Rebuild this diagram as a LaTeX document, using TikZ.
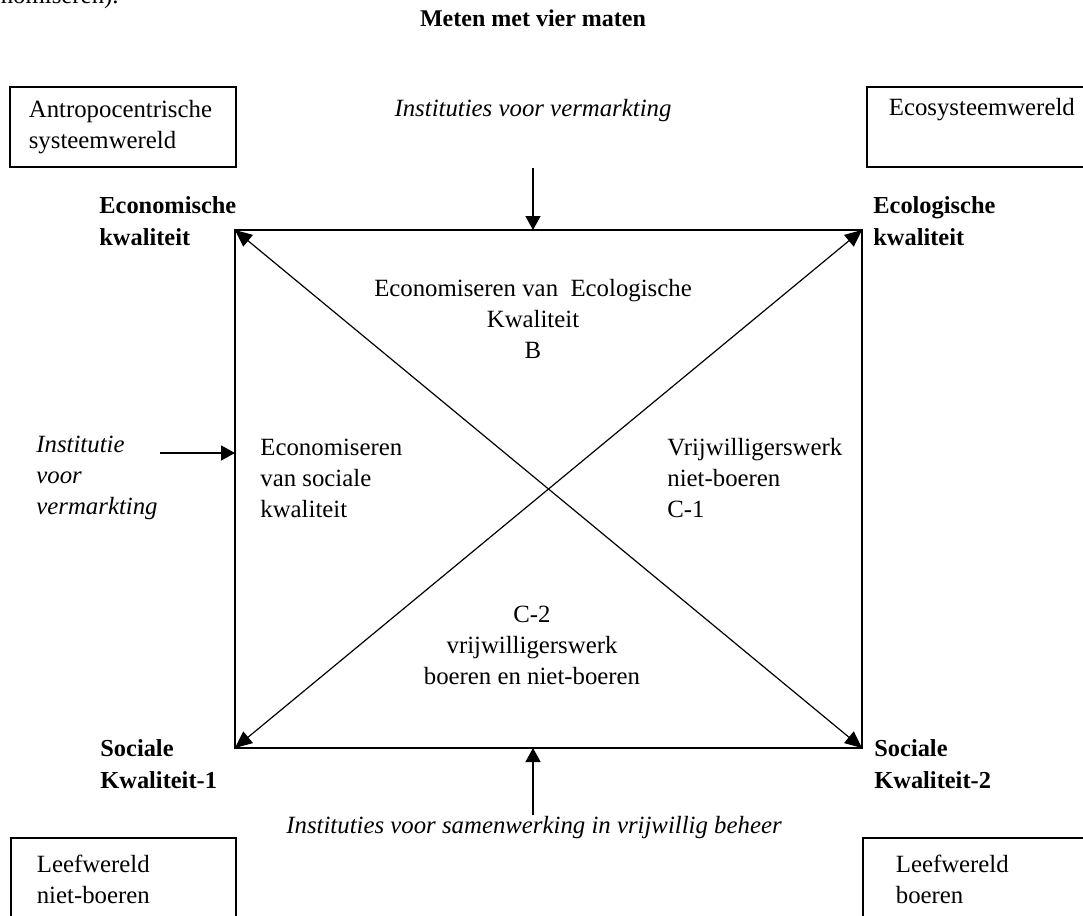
\documentclass[tikz,border=0pt]{standalone}
\usepackage{fontspec}
\setmainfont{Liberation Serif}
\usetikzlibrary{arrows.meta}
\begin{document}
\begin{tikzpicture}[x=0.5pt,y=-0.5pt,
  txt/.style={inner sep=0pt, font=\fontsize{12.4}{15.5}\selectfont, align=left},
  ctxt/.style={txt, align=center},
  itxt/.style={txt, font=\fontsize{12.4}{15.5}\selectfont\itshape},
  btxt/.style={txt, font=\fontsize{12.2}{16}\selectfont\bfseries},
  wbox/.style={draw, line width=0.85pt, font=\fontsize{12.4}{15.5}\selectfont, align=left, inner ysep=0pt, anchor=north west},
  frame/.style={line width=1pt},
  diag/.style={line width=0.6pt, {Triangle[length=8.5pt,width=7.5pt]}-{Triangle[length=8.5pt,width=7.5pt]}},
  inarrow/.style={line width=0.7pt, -{Triangle[length=7pt,width=7.5pt]}}
]
\clip (0,0) rectangle (1083,916);
\fill[white] (0,0) rectangle (1083,916);

% clipped fragment of the preceding text
\node[txt, anchor=base east] (frag) at (119,3) {economiseren).};

% title
\node[txt, font=\fontsize{12}{15}\selectfont\bfseries, anchor=base] (title) at (533,26) {Meten met vier maten};

% corner boxes
\node[wbox, minimum width=113pt, minimum height=40pt, text width=94pt, inner xsep=9.5pt] (antro) at (9,86) {Antropocentrische\\systeemwereld};
\node[wbox, minimum width=115pt, minimum height=40pt, text width=93pt, inner xsep=11pt] (eco) at (866,86) {Ecosysteemwereld\\\strut};
\node[wbox, minimum width=112.5pt, minimum height=42pt, text width=86.5pt, inner xsep=13pt] (lwnb) at (10,837) {Leefwereld\\niet-boeren};
\node[wbox, minimum width=120pt, minimum height=42pt, text width=87pt, inner xsep=16.5pt] (lwb) at (862,837) {Leefwereld\\boeren};

% square corners
\coordinate (EK) at (235,230);
\coordinate (EL) at (862,230);
\coordinate (S1) at (235,748);
\coordinate (S2) at (862,748);
\coordinate (topin) at (533,230);
\coordinate (leftin) at (235,453);
\coordinate (botin) at (533,748);
\coordinate (topsrc) at (533,168);
\coordinate (leftsrc) at (160,453);
\coordinate (botsrc) at (533,815);

\draw[frame] (EK) -- (EL) -- (S2) -- (S1) -- cycle;
\draw[diag] (EK) -- (S2);
\draw[diag] (EL) -- (S1);

\draw[inarrow] (topsrc) -- (topin);
\draw[inarrow] (leftsrc) -- (leftin);
\draw[inarrow] (botsrc) -- (botin);

% corner labels
\node[btxt, anchor=west] (ekl) at (99,221) {Economische\\kwaliteit};
\node[btxt, anchor=west] (ell) at (873,221) {Ecologische\\kwaliteit};
\node[btxt, anchor=west] (s1l) at (100,764) {Sociale\\Kwaliteit-1};
\node[btxt, anchor=west] (s2l) at (874,764) {Sociale\\Kwaliteit-2};

% institution labels
\node[itxt] (instTop) at (533,111) {Instituties voor vermarkting};
\node[itxt, anchor=west] (instLeft) at (36,478) {Institutie\\voor\\vermarkting};
\node[itxt] (instBot) at (534,828) {Instituties voor samenwerking in vrijwillig beheer};

% quadrant labels
\node[ctxt] (qB) at (533,319) {Economiseren van\ \ Ecologische\\Kwaliteit\\B};
\node[txt, anchor=west] (qA) at (260,478) {Economiseren\\van sociale\\kwaliteit};
\node[txt, anchor=west] (qC1) at (667,478) {Vrijwilligerswerk\\niet-boeren\\C-1};
\node[ctxt] (qC2) at (532,645) {C-2\\vrijwilligerswerk\\boeren en niet-boeren};
\end{tikzpicture}
\end{document}
